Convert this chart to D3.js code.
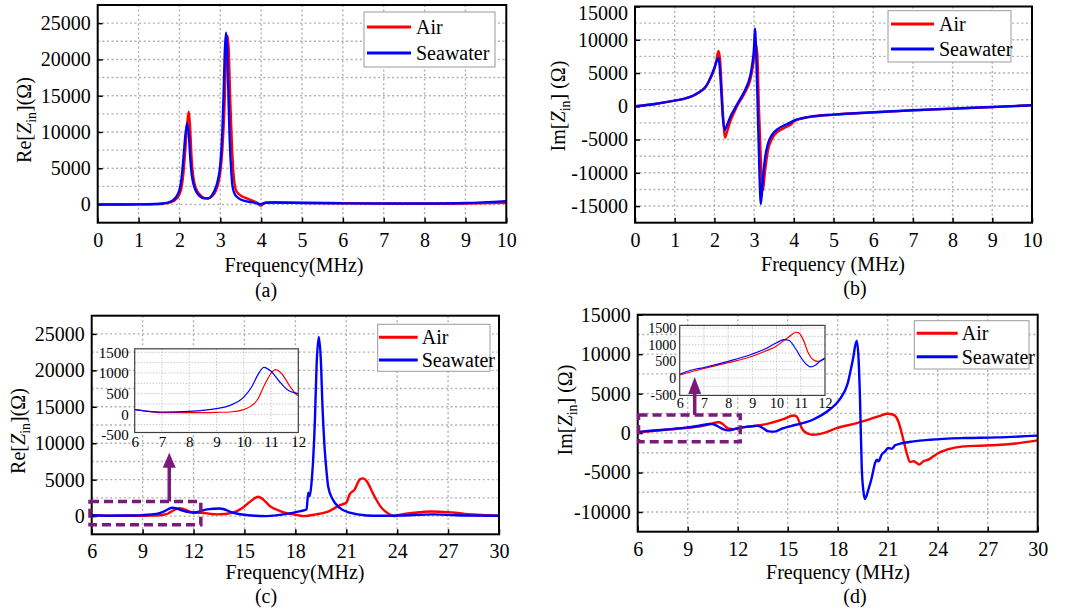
<!DOCTYPE html>
<html>
<head>
<meta charset="utf-8">
<script src="https://cdn.jsdelivr.net/npm/d3@7"></script>
<style>
  body { margin: 0; background: #fff; }
  svg, svg text { font-family: 'Liberation Serif', 'Times New Roman', Times, 'DejaVu Serif', serif; }
</style>
</head>
<body>
<svg id="fig" width="1069" height="615" font-family="Liberation Serif"></svg>
<script>
// ---------- measured impedance, [frequency MHz, ohms] ----------
// (a) real part, 0-10 MHz
const reAirA = [[0,0],[0.5,5],[1,20],[1.4,60],[1.6,120],[1.8,350],[1.9,650],[2.0,1400],[2.05,2300],[2.1,4400],
  [2.15,8000],[2.2,11700],[2.23,12800],[2.26,10800],[2.3,6200],[2.35,3450],[2.4,2300],[2.5,1380],[2.6,920],[2.7,830],
  [2.8,1150],[2.9,2000],[2.95,2900],[3.0,4400],[3.05,7500],[3.1,13000],[3.14,20000],[3.18,23250],[3.21,21000],
  [3.24,15000],[3.28,9000],[3.32,4500],[3.36,2500],[3.4,1800],[3.5,1250],[3.6,950],[3.7,750],[3.8,520],[3.9,250],
  [3.97,-100],[4.0,-120],[4.05,100],[4.15,280],[4.5,300],[5,250],[6,180],[7,130],[8,120],[9,150],[10,250]];
const reSeaA = [[0,0],[0.5,5],[1,20],[1.4,70],[1.6,150],[1.8,450],[1.9,900],[2.0,2000],[2.05,3500],[2.1,6500],
  [2.15,9800],[2.19,11200],[2.23,9600],[2.27,6000],[2.3,4200],[2.35,2700],[2.4,1900],[2.5,1150],[2.6,850],[2.7,850],
  [2.8,1300],[2.9,2500],[2.95,3600],[3.0,5500],[3.05,10000],[3.08,15000],[3.11,21000],[3.14,23700],[3.17,21500],
  [3.2,15000],[3.23,9000],[3.27,4500],[3.3,2500],[3.35,1500],[3.4,1100],[3.5,700],[3.6,500],[3.7,380],[3.8,300],
  [3.9,150],[4.0,60],[4.1,250],[4.3,280],[5,220],[6,170],[7,140],[8,150],[9,220],[10,480]];

// (b) imaginary part, 0-10 MHz
const imAirB = [[0,0],[0.5,350],[1,850],[1.25,1150],[1.5,1700],[1.7,2450],[1.8,3100],[1.9,4200],[2.0,5600],
  [2.05,6800],[2.1,8300],[2.14,7200],[2.18,3000],[2.22,-1500],[2.27,-4700],[2.32,-3800],[2.4,-2300],[2.5,-900],
  [2.6,350],[2.7,1300],[2.8,2400],[2.9,3900],[2.95,5300],[3.0,7300],[3.04,9400],[3.08,8000],[3.12,0],[3.17,-8000],
  [3.22,-12700],[3.28,-9500],[3.35,-6600],[3.45,-4900],[3.6,-3800],[3.75,-3300],[3.85,-3000],[3.92,-2800],
  [4.0,-2300],[4.2,-1850],[4.5,-1500],[5,-1250],[6,-920],[7,-620],[8,-370],[9,-120],[10,150]];
const imSeaB = [[0,0],[0.5,350],[1,850],[1.25,1150],[1.5,1700],[1.7,2450],[1.8,3100],[1.9,4300],[2.0,5800],
  [2.05,6700],[2.1,7300],[2.13,6200],[2.17,2500],[2.21,-1500],[2.26,-3600],[2.3,-3100],[2.4,-1600],[2.5,-500],
  [2.6,600],[2.7,1600],[2.8,2800],[2.9,4500],[2.95,6200],[3.0,9000],[3.02,11700],[3.05,8500],[3.09,0],[3.13,-9000],
  [3.17,-14700],[3.22,-11000],[3.28,-7600],[3.35,-5600],[3.45,-4300],[3.6,-3400],[3.75,-2900],[3.9,-2500],
  [4.0,-2150],[4.2,-1800],[4.5,-1500],[5,-1250],[6,-900],[7,-600],[8,-350],[9,-100],[10,150]];

// (c) real part, 6-30 MHz
const reAirC = [[6,112],[6.5,70],[7,40],[8,40],[9,48],[9.5,56],[10,112],[10.3,216],[10.5,352],[10.75,696],[11,992],
  [11.16,1080],[11.4,976],[11.7,672],[12,456],[12.4,460],[13.4,230],[14.3,460],[14.9,1140],[15.5,2290],[15.8,2650],
  [16.1,2290],[16.5,1370],[17.1,690],[17.9,230],[18.5,0],[19.2,230],[20.0,690],[20.6,1470],[21.0,1830],[21.2,2980],
  [21.5,3660],[21.8,5040],[22.0,5170],[22.2,4800],[22.6,2980],[23.0,1370],[23.4,460],[23.8,0],[24.2,200],[25,450],
  [26,620],[27,550],[28,300],[29,150],[30,60]];
const reSeaC = [[6,112],[6.5,70],[7,56],[8,72],[9,136],[9.5,216],[10,416],[10.3,672],[10.5,936],[10.74,1136],
  [11,1040],[11.3,800],[11.6,592],[12,500],[12.8,915],[13.55,1050],[14.34,460],[15.1,140],[16.3,0],[17.3,230],
  [18.3,690],[18.66,900],[18.76,3200],[18.85,2750],[18.95,4500],[19.05,7800],[19.15,13000],[19.25,20600],
  [19.38,24600],[19.5,21500],[19.6,15000],[19.73,9150],[19.85,5800],[19.93,4100],[20.2,2300],[20.6,1150],
  [21.2,460],[22.2,90],[23,50],[24.2,90],[26.1,230],[28.1,90],[30,50]];

// (d) imaginary part, 6-30 MHz
const imAirD = [[6,96],[6.5,190],[7,288],[8,461],[9,653],[9.5,797],[10,960],[10.3,1123],[10.5,1229],[10.8,1373],
  [10.9,1363],[11.1,1152],[11.3,768],[11.5,557],[11.7,500],[11.85,528],[12,595],[12.5,780],[13.14,930],[13.94,1260],
  [14.74,1770],[15.34,2230],[15.54,2100],[15.7,1400],[15.84,630],[16.14,0],[16.54,-210],[17.14,0],[17.94,630],
  [19.14,1260],[19.94,1770],[20.54,2190],[20.98,2440],[21.34,2320],[21.64,1470],[21.94,-840],[22.14,-2530],
  [22.34,-3670],[22.54,-3580],[22.74,-3790],[22.88,-4000],[23.14,-3580],[23.44,-3370],[23.74,-2950],[24.04,-2530],
  [24.54,-2110],[25.54,-1690],[26.54,-1600],[27.54,-1520],[28.54,-1350],[30,-930]];
const imSeaD = [[6,115],[6.5,240],[7,317],[8,500],[9,720],[9.5,864],[10,1056],[10.3,1150],[10.5,1133],[10.8,864],
  [11,624],[11.2,432],[11.4,336],[11.6,384],[11.8,509],[12,595],[12.5,780],[13,900],[13.2,930],[13.5,650],[13.8,250],
  [14.2,180],[14.7,600],[15.5,1050],[16.5,1690],[17.5,2950],[18.1,4200],[18.6,6300],[18.9,9200],[19.14,11700],
  [19.25,9500],[19.34,4200],[19.44,-4200],[19.55,-7500],[19.64,-8350],[19.84,-7160],[20.04,-5700],[20.24,-3800],
  [20.34,-3370],[20.44,-3580],[20.64,-2740],[20.84,-2320],[21.04,-1900],[21.24,-1980],[21.44,-1560],[21.74,-1350],
  [22.54,-1050],[23.54,-840],[25.54,-630],[27.54,-550],[30,-330]];

// ---------- tick values ----------
const ticksLowF = [0,1,2,3,4,5,6,7,8,9,10];
const ticksHighF = [6,9,12,15,18,21,24,27,30];
const ticksReY = [0,5000,10000,15000,20000,25000];
const ticksImYb = [-15000,-10000,-5000,0,5000,10000,15000];
const ticksImYd = [-10000,-5000,0,5000,10000,15000];
const ticksInsetF = [6,7,8,9,10,11,12];
const ticksInsetY = [-500,0,500,1000,1500];
const seriesNames = ["Air", "Seawater"];

const FONT = "'Liberation Serif', 'Times New Roman', Times, serif";
const AIR = "#ff0000", SEA = "#0000ff", ZOOM = "#7b1a7b";
const svg = d3.select("#fig");
let clipId = 0;

function zLabel(text, prefix, suffix) {
  text.append("tspan").text(prefix + "[");
  text.append("tspan").attr("font-style", "italic").text("Z");
  text.append("tspan").attr("font-size", "14px").attr("dy", 5).text("in");
  text.append("tspan").attr("dy", -5).text("]" + suffix);
}

function gridRange(a, b, step) { return d3.range(a, b + step / 2, step); }

function panel(cfg) {
  const x = d3.scaleLinear().domain(cfg.xDomain).range([cfg.left, cfg.right]);
  const y = d3.scaleLinear().domain(cfg.yDomain).range([cfg.bottom, cfg.top]);
  const g = svg.append("g").attr("font-family", FONT);

  // dotted grid
  const grid = g.append("g").attr("stroke", "#b0b0b0").attr("stroke-width", 1.4).attr("stroke-dasharray", "2,2.6");
  grid.selectAll("line.v").data(cfg.xTicks.filter(d => d > cfg.xDomain[0] && d < cfg.xDomain[1])).join("line")
    .attr("x1", d => x(d)).attr("x2", d => x(d)).attr("y1", cfg.top).attr("y2", cfg.bottom);
  grid.selectAll("line.h").data(cfg.yGrid).join("line")
    .attr("y1", d => y(d)).attr("y2", d => y(d)).attr("x1", cfg.left).attr("x2", cfg.right);

  // axes with inward ticks
  const fmt = d => String(d);
  const ax = g.append("g").attr("transform", `translate(0,${cfg.bottom})`)
    .call(d3.axisBottom(x).tickValues(cfg.xTicks).tickSize(-5).tickPadding(10).tickFormat(fmt));
  const ay = g.append("g").attr("transform", `translate(${cfg.left},0)`)
    .call(d3.axisLeft(y).tickValues(cfg.yTicks).tickSize(-5).tickPadding(7).tickFormat(fmt));
  [ax, ay].forEach(a => {
    a.attr("font-family", FONT).attr("font-size", 20);
    a.select(".domain").remove();
    a.selectAll(".tick line").attr("stroke", "#000").attr("stroke-width", 1.5);
    a.selectAll(".tick text").attr("fill", "#000");
  });
  // keep a label that sits at the very top of the page fully inside it
  ay.selectAll(".tick text").filter(d => y(d) < 12).attr("y", 7);

  // curves
  const id = "clip" + (clipId++);
  g.append("clipPath").attr("id", id).append("rect")
    .attr("x", cfg.left).attr("y", cfg.top).attr("width", cfg.right - cfg.left).attr("height", cfg.bottom - cfg.top);
  const line = d3.line().x(d => x(d[0])).y(d => y(d[1])).curve(d3.curveMonotoneX);
  const curves = g.append("g").attr("clip-path", `url(#${id})`).attr("fill", "none")
    .attr("stroke-width", 2.4).attr("stroke-linejoin", "round");
  curves.append("path").attr("d", line(cfg.air)).attr("stroke", AIR);
  curves.append("path").attr("d", line(cfg.sea)).attr("stroke", SEA);

  // frame
  g.append("rect").attr("x", cfg.left).attr("y", cfg.top)
    .attr("width", cfg.right - cfg.left).attr("height", cfg.bottom - cfg.top)
    .attr("fill", "none").attr("stroke", "#000").attr("stroke-width", 2);

  // axis titles and panel tag
  g.append("text").attr("x", cfg.xTitle[0]).attr("y", cfg.xTitle[1]).attr("text-anchor", "middle")
    .attr("font-size", 20).text(cfg.xTitleText);
  const yt = g.append("text").attr("transform", `translate(${cfg.yTitle[0]},${cfg.yTitle[1]}) rotate(-90)`)
    .attr("text-anchor", "middle").attr("font-size", 20);
  zLabel(yt, cfg.yPrefix, cfg.ySuffix);
  g.append("text").attr("x", cfg.tag[0]).attr("y", cfg.tag[1]).attr("text-anchor", "middle")
    .attr("font-size", 20).text(cfg.tagText);

  // legend
  const L = cfg.legend;
  const lg = g.append("g");
  lg.append("rect").attr("x", L.x0).attr("y", L.y0).attr("width", L.x1 - L.x0).attr("height", L.y1 - L.y0)
    .attr("fill", "#fff").attr("stroke", "#9a9a9a").attr("stroke-width", 1);
  [AIR, SEA].forEach((c, i) => {
    lg.append("line").attr("x1", L.lx0).attr("x2", L.lx1).attr("y1", L.rows[i]).attr("y2", L.rows[i])
      .attr("stroke", c).attr("stroke-width", 3);
    lg.append("text").attr("x", L.tx).attr("y", L.rows[i] + 7).attr("font-size", 20).text(seriesNames[i]);
  });
  return { x, y, g };
}

function inset(main, cfg) {
  const x = d3.scaleLinear().domain([6, 12]).range([cfg.left, cfg.right]);
  const y = d3.scaleLinear().domain(cfg.yDomain).range([cfg.bottom, cfg.top]);
  const g = main.g.append("g");
  g.append("rect").attr("x", cfg.left).attr("y", cfg.top).attr("width", cfg.right - cfg.left)
    .attr("height", cfg.bottom - cfg.top).attr("fill", "#fff");
  const grid = g.append("g").attr("stroke", "#c4c4c4").attr("stroke-width", 0.9).attr("stroke-dasharray", "1.5,1.5");
  grid.selectAll("line.v").data(ticksInsetF.slice(1, -1)).join("line")
    .attr("x1", d => x(d)).attr("x2", d => x(d)).attr("y1", cfg.top).attr("y2", cfg.bottom);
  grid.selectAll("line.h").data(gridRange(-250, 1500, 250)).join("line")
    .attr("y1", d => y(d)).attr("y2", d => y(d)).attr("x1", cfg.left).attr("x2", cfg.right);

  const fmt = d => String(d);
  const ax = g.append("g").attr("transform", `translate(0,${cfg.bottom})`)
    .call(d3.axisBottom(x).tickValues(ticksInsetF).tickSize(0).tickPadding(cfg.padX).tickFormat(fmt));
  const ay = g.append("g").attr("transform", `translate(${cfg.left},0)`)
    .call(d3.axisLeft(y).tickValues(ticksInsetY).tickSize(0).tickPadding(cfg.padY).tickFormat(fmt));
  [ax, ay].forEach(a => {
    a.attr("font-family", FONT).attr("font-size", cfg.fontSize);
    a.select(".domain").remove();
    a.selectAll(".tick text").attr("fill", "#000");
  });

  const id = "clip" + (clipId++);
  g.append("clipPath").attr("id", id).append("rect")
    .attr("x", cfg.left).attr("y", cfg.top).attr("width", cfg.right - cfg.left).attr("height", cfg.bottom - cfg.top);
  const line = d3.line().x(d => x(d[0])).y(d => y(d[1])).curve(d3.curveMonotoneX);
  const sub = arr => arr.filter(d => d[0] >= 5.5 && d[0] <= 12.6);
  const curves = g.append("g").attr("clip-path", `url(#${id})`).attr("fill", "none").attr("stroke-width", 1.2);
  curves.append("path").attr("d", line(sub(cfg.air))).attr("stroke", AIR);
  curves.append("path").attr("d", line(sub(cfg.sea))).attr("stroke", SEA);

  g.append("rect").attr("x", cfg.left).attr("y", cfg.top).attr("width", cfg.right - cfg.left)
    .attr("height", cfg.bottom - cfg.top).attr("fill", "none").attr("stroke", "#404040").attr("stroke-width", 1.2);

  // dashed zoom window on the main axes and the arrow pointing to the inset
  const Z = cfg.zoomBox, mx = main.x, my = main.y;
  main.g.append("rect").attr("x", mx(Z.f0)).attr("y", my(Z.v1))
    .attr("width", mx(Z.f1) - mx(Z.f0)).attr("height", my(Z.v0) - my(Z.v1))
    .attr("fill", "none").attr("stroke", ZOOM).attr("stroke-width", 3.5).attr("stroke-dasharray", "9,5");
  const ax0 = mx(Z.arrowF), yBase = my(Z.v1), yTip = my(Z.arrowTip);
  main.g.append("line").attr("x1", ax0).attr("x2", ax0).attr("y1", yBase).attr("y2", yTip + cfg.headH - 1)
    .attr("stroke", ZOOM).attr("stroke-width", 3.5);
  main.g.append("path").attr("fill", ZOOM)
    .attr("d", `M${ax0},${yTip} L${ax0 - 6.5},${yTip + cfg.headH} L${ax0 + 6.5},${yTip + cfg.headH} Z`);
}

// ---------- panels ----------
panel({
  left: 97.7, right: 506.3, top: 5, bottom: 222.7, xDomain: [0, 10], yDomain: [-2500, 27500],
  xTicks: ticksLowF, yTicks: ticksReY, yGrid: gridRange(0, 25000, 2500), air: reAirA, sea: reSeaA,
  xTitle: [294, 272], xTitleText: "Frequency(MHz)", yTitle: [31, 120], yPrefix: "Re", ySuffix: "(\u03A9)",
  tag: [266, 297], tagText: "(a)",
  legend: { x0: 364, y0: 12, x1: 495, y1: 67, rows: [27, 53], lx0: 367, lx1: 411, tx: 416 }
});
panel({
  left: 635, right: 1032, top: 6.5, bottom: 222.7, xDomain: [0, 10], yDomain: [-17500, 15000],
  xTicks: ticksLowF, yTicks: ticksImYb, yGrid: gridRange(-15000, 12500, 2500), air: imAirB, sea: imSeaB,
  xTitle: [833, 271], xTitleText: "Frequency (MHz)", yTitle: [565, 106], yPrefix: "Im", ySuffix: " (\u03A9)",
  tag: [855, 295], tagText: "(b)",
  legend: { x0: 888, y0: 10.7, x1: 1011, y1: 62, rows: [24, 49], lx0: 891, lx1: 934, tx: 939 }
});
const pc = panel({
  left: 91.7, right: 499, top: 315.7, bottom: 534.3, xDomain: [6, 30], yDomain: [-2500, 27500],
  xTicks: ticksHighF, yTicks: ticksReY, yGrid: gridRange(0, 25000, 2500), air: reAirC, sea: reSeaC,
  xTitle: [295, 579], xTitleText: "Frequency(MHz)", yTitle: [25, 431], yPrefix: "Re", ySuffix: "(\u03A9)",
  tag: [266, 603], tagText: "(c)",
  legend: { x0: 377.7, y0: 324.3, x1: 490, y1: 371.3, rows: [337.3, 360], lx0: 379, lx1: 417.7, tx: 421.7 }
});
const pd = panel({
  left: 637.7, right: 1037.7, top: 314.7, bottom: 531.7, xDomain: [6, 30], yDomain: [-12500, 15000],
  xTicks: ticksHighF, yTicks: ticksImYd, yGrid: gridRange(-10000, 12500, 2500), air: imAirD, sea: imSeaD,
  xTitle: [838, 579], xTitleText: "Frequency (MHz)", yTitle: [571.5, 410], yPrefix: "Im", ySuffix: " (\u03A9)",
  tag: [855, 603], tagText: "(d)",
  legend: { x0: 914.3, y0: 320.7, x1: 1029, y1: 369, rows: [333.3, 356.7], lx0: 916.7, lx1: 957.7, tx: 961.7 }
});

inset(pc, {
  left: 134.7, right: 298.3, top: 348.8, bottom: 432.5, yDomain: [-440, 1585], fontSize: 15, padX: 4, padY: 6,
  air: reAirC, sea: reSeaC, headH: 15,
  zoomBox: { f0: 5.9, f1: 12.43, v0: -1200, v1: 2000, arrowF: 10.57, arrowTip: 8700 }
});
inset(pd, {
  left: 679.7, right: 825, top: 325.4, bottom: 395.4, yDomain: [-520, 1578], fontSize: 14, padX: 3, padY: 3.5,
  air: imAirD, sea: imSeaD, headH: 17,
  zoomBox: { f0: 6.05, f1: 12.15, v0: -1100, v1: 2300, arrowF: 9.42, arrowTip: 7100 }
});
</script>
</body>
</html>
